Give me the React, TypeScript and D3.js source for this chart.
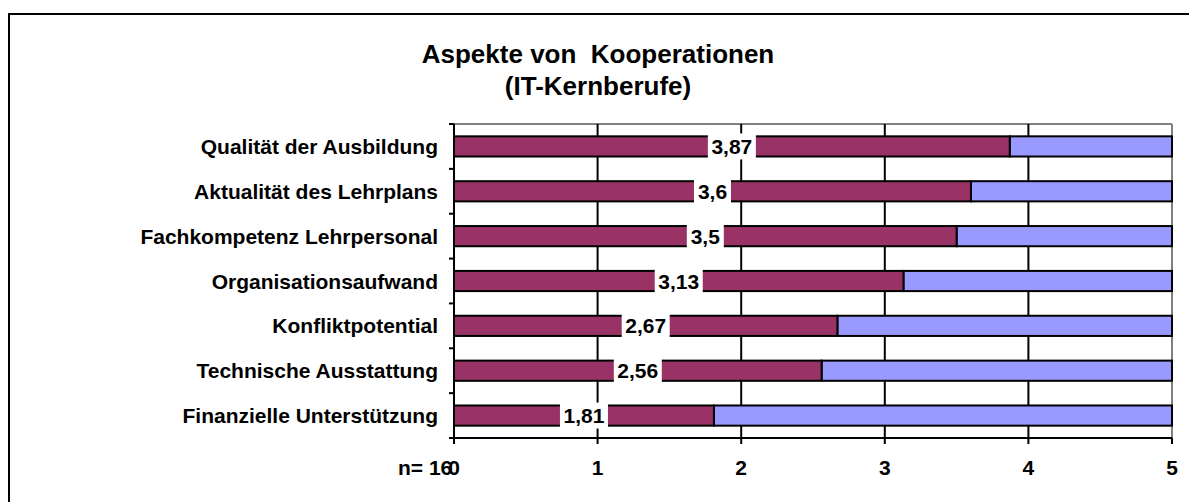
import * as d3 from 'd3';

const categories = [
  'Qualität der Ausbildung',
  'Aktualität des Lehrplans',
  'Fachkompetenz Lehrpersonal',
  'Organisationsaufwand',
  'Konfliktpotential',
  'Technische Ausstattung',
  'Finanzielle Unterstützung',
];
const values = [3.87, 3.6, 3.5, 3.13, 2.67, 2.56, 1.81];
const labels = ['3,87', '3,6', '3,5', '3,13', '2,67', '2,56', '1,81'];
const ticks = [0, 1, 2, 3, 4, 5];
const maxValue = 5;

const FONT = "'Liberation Sans', Arial, sans-serif";

export default function App() {
  const width = 1189;
  const height = 502;
  const left = 454;
  const right = 1172;
  const top = 124;
  const bottom = 438;

  const x = d3.scaleLinear().domain([0, maxValue]).range([left, right]);
  const y = d3.scaleBand().domain(categories).range([top, bottom]).paddingInner(0.55).paddingOuter(0.275);
  const bands = d3.range(categories.length + 1).map(i => top + (i * (bottom - top)) / categories.length);

  return (
    <svg width={width} height={height} style={{ position: 'absolute', left: 0, top: 0, background: '#fff' }}>
      <rect x={9} y={14} width={1200} height={500} fill="#fff" stroke="#000" strokeWidth={2} />

      <text x={598} y={63} textAnchor="middle" fontFamily={FONT} fontWeight="bold" fontSize={26} style={{ whiteSpace: 'pre' }}>
        {'Aspekte von  Kooperationen'}
      </text>
      <text x={598} y={95} textAnchor="middle" fontFamily={FONT} fontWeight="bold" fontSize={26}>
        (IT-Kernberufe)
      </text>

      {/* plot border */}
      <line x1={left} x2={right} y1={top} y2={top} stroke="#808080" strokeWidth={2} />
      <line x1={right} x2={right} y1={top} y2={bottom} stroke="#808080" strokeWidth={2} />

      {/* gridlines */}
      {ticks.slice(1, -1).map(t => (
        <line key={t} x1={x(t)} x2={x(t)} y1={top} y2={bottom} stroke="#000" strokeWidth={2} />
      ))}

      {/* bars */}
      {categories.map((c, i) => (
        <g key={c}>
          <rect x={x(values[i])} y={y(c)} width={x(maxValue) - x(values[i])} height={y.bandwidth()}
            fill="#9999FF" stroke="#000" strokeWidth={2} />
          <rect x={x(0)} y={y(c)} width={x(values[i]) - x(0)} height={y.bandwidth()}
            fill="#993366" stroke="#000" strokeWidth={2} />
        </g>
      ))}

      {/* y axis */}
      <line x1={left} x2={left} y1={top} y2={bottom} stroke="#000" strokeWidth={2} />
      {bands.map((b, i) => (
        <line key={i} x1={left - 5} x2={left} y1={b} y2={b} stroke="#000" strokeWidth={2} />
      ))}
      {categories.map(c => (
        <text key={c} x={438} y={(y(c) ?? 0) + y.bandwidth() / 2} dy="0.36em" textAnchor="end"
          fontFamily={FONT} fontWeight="bold" fontSize={21}>
          {c}
        </text>
      ))}

      {/* x axis */}
      <line x1={left} x2={right} y1={bottom} y2={bottom} stroke="#000" strokeWidth={2} />
      {ticks.map(t => (
        <g key={t}>
          <line x1={x(t)} x2={x(t)} y1={bottom} y2={bottom + 6} stroke="#000" strokeWidth={2} />
          <text x={x(t)} y={475} textAnchor="middle" fontFamily={FONT} fontWeight="bold" fontSize={21}>
            {t}
          </text>
        </g>
      ))}
      <text x={398} y={475} fontFamily={FONT} fontWeight="bold" fontSize={21}>n= 16</text>

      {/* value labels */}
      {categories.map((c, i) => {
        const cx = x(values[i] / 2);
        const cy = (y(c) ?? 0) + y.bandwidth() / 2;
        const w = labels[i].length * 11 + 4;
        return (
          <g key={c}>
            <rect x={cx - w / 2} y={cy - 13} width={w} height={26} fill="#fff" />
            <text x={cx} y={cy} dy="0.36em" textAnchor="middle" fontFamily={FONT} fontWeight="bold" fontSize={21}>
              {labels[i]}
            </text>
          </g>
        );
      })}
    </svg>
  );
}
